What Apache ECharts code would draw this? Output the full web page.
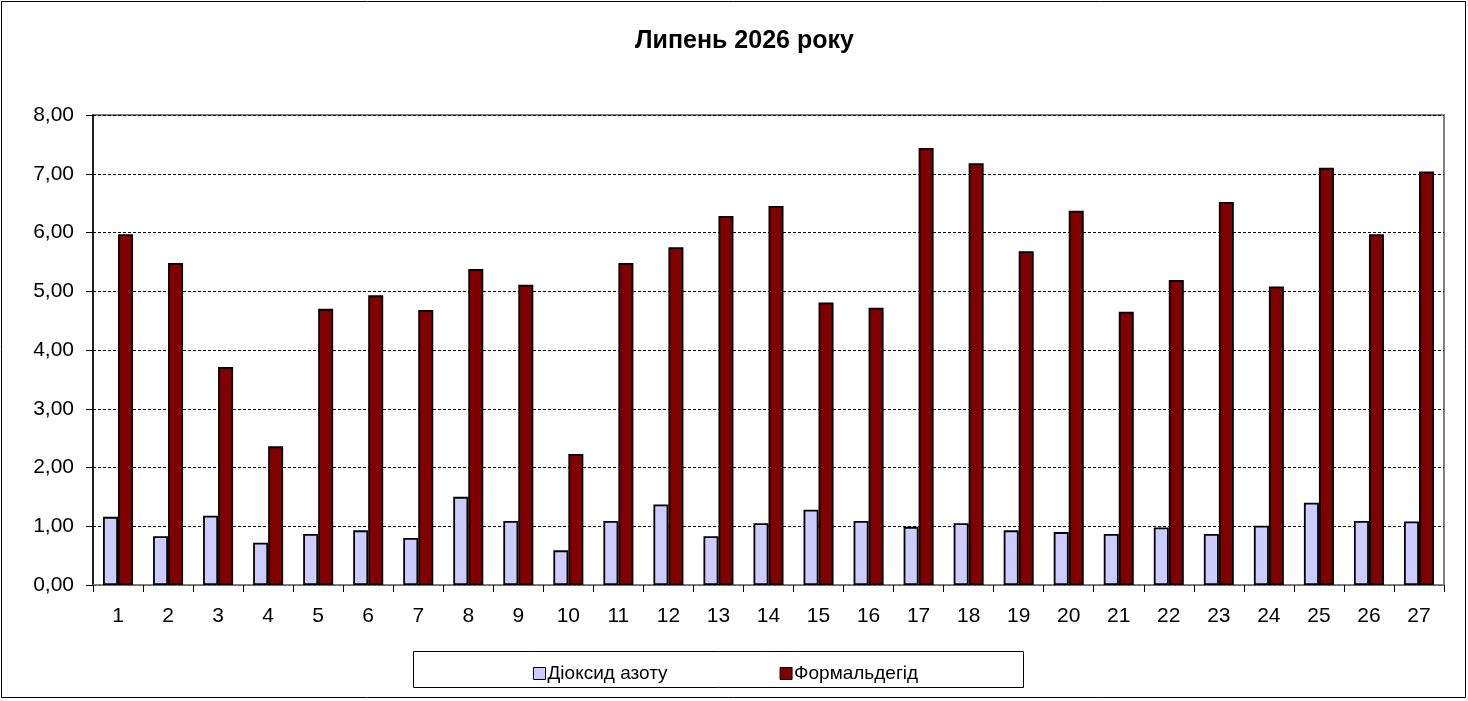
<!DOCTYPE html>
<html>
<head>
<meta charset="utf-8">
<script src="https://cdn.jsdelivr.net/npm/echarts@6/dist/echarts.min.js"></script>
<style>
html,body{margin:0;padding:0;background:#fff;}
#chart{width:1468px;height:701px;}
</style>
</head>
<body>
<div id="chart"></div>
<script>
const categories = ['1','2','3','4','5','6','7','8','9','10','11','12','13','14','15','16','17','18','19','20','21','22','23','24','25','26','27'];
const seriesNames = ['Діоксид азоту', 'Формальдегід'];
const no2 = [1.16,0.83,1.18,0.72,0.87,0.93,0.80,1.50,1.09,0.59,1.09,1.37,0.83,1.05,1.28,1.09,0.99,1.05,0.93,0.90,0.87,0.98,0.87,1.01,1.40,1.09,1.08];
const formaldehyde = [5.97,5.48,3.71,2.36,4.70,4.93,4.68,5.38,5.11,2.23,5.48,5.75,6.28,6.45,4.81,4.72,7.44,7.18,5.68,6.37,4.65,5.19,6.52,5.08,7.10,5.97,7.04];
const titleText = 'Липень 2026 року';

const chart = echarts.init(document.getElementById('chart'), null, {renderer:'canvas'});
const font = 'Arial, "Liberation Sans", sans-serif';
chart.setOption({
  backgroundColor: '#ffffff',
  animation: false,
  title: {
    text: titleText,
    left: 630,
    top: 24,
    textStyle: {fontFamily: font, fontSize: 25, fontWeight: 'bold', color: '#000'}
  },
  graphic: [
    {type:'rect', shape:{x:1.5,y:1.5,width:1464,height:696}, style:{fill:'none', stroke:'#000', lineWidth:1}, z:-1},
    {type:'rect', shape:{x:413.5,y:651.5,width:610,height:36}, style:{fill:'none', stroke:'#000', lineWidth:1}, z:-1}
  ],
  legend: {
    left: 528,
    top: 659,
    itemGap: 112,
    itemWidth: 12,
    itemHeight: 12,
    icon: 'rect',
    itemStyle: {borderColor: '#000', borderWidth: 1},
    textStyle: {fontFamily: font, fontSize: 19, color: '#000', padding: [0, 0, 0, -3]},
    data: seriesNames
  },
  grid: {
    left: 93, right: 24, top: 115, bottom: 116,
    show: true, borderColor: '#808080', borderWidth: 2, backgroundColor: 'transparent'
  },
  xAxis: {
    type: 'category',
    data: categories,
    boundaryGap: true,
    axisLine: {lineStyle: {color: '#808080', width: 1.5}},
    axisTick: {show: true, interval: 0, length: 7, lineStyle: {color: '#000', width: 1}},
    axisLabel: {interval: 0, margin: 21, fontFamily: font, fontSize: 21, color: '#000'}
  },
  yAxis: {
    type: 'value',
    min: 0, max: 8, interval: 1,
    axisLine: {show: true, lineStyle: {color: '#000', width: 1.5}},
    axisTick: {show: true, length: 7, lineStyle: {color: '#000'}},
    axisLabel: {margin: 19, fontFamily: font, fontSize: 21, color: '#000',
      formatter: v => v.toFixed(2).replace('.', ',')},
    splitLine: {show: true, lineStyle: {color: '#000', type: [3,2], width: 1}}
  },
  series: [
    {name: seriesNames[0], type: 'bar', data: no2, barWidth: 15, barGap: '0%',
     itemStyle: {color: '#CCCCFF', borderColor: '#000', borderWidth: 1.8}},
    {name: seriesNames[1], type: 'bar', data: formaldehyde, barWidth: 15, barGap: '0%',
     itemStyle: {color: '#800000', borderColor: '#000', borderWidth: 1.8}}
  ]
});
</script>
</body>
</html>
